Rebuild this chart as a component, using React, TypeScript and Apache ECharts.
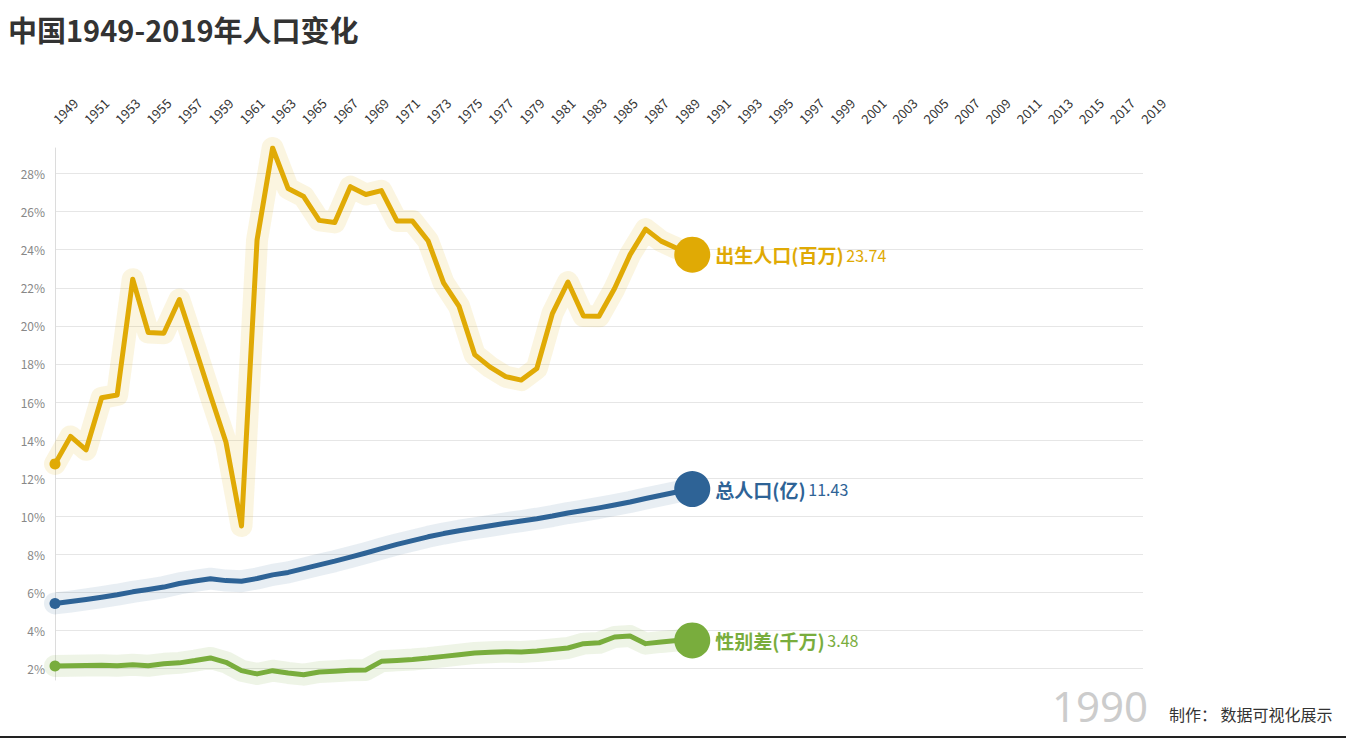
import React, { useEffect, useRef } from 'react';
import * as echarts from 'echarts';

const titleText = '中国1949-2019年人口变化';

const years = [
  '1949', '1950', '1951', '1952', '1953', '1954', '1955', '1956', '1957', '1958',
  '1959', '1960', '1961', '1962', '1963', '1964', '1965', '1966', '1967', '1968',
  '1969', '1970', '1971', '1972', '1973', '1974', '1975', '1976', '1977', '1978',
  '1979', '1980', '1981', '1982', '1983', '1984', '1985', '1986', '1987', '1988',
  '1989', '1990', '1991', '1992', '1993', '1994', '1995', '1996', '1997', '1998',
  '1999', '2000', '2001', '2002', '2003', '2004', '2005', '2006', '2007', '2008',
  '2009', '2010', '2011', '2012', '2013', '2014', '2015', '2016', '2017', '2018',
  '2019',
];

// 出生人口(百万), 1949-1990
const births = [
  12.75, 14.19, 13.49, 16.22, 16.37, 22.45, 19.65, 19.61, 21.38, 18.89,
  16.35, 13.89, 9.49, 24.51, 29.34, 27.21, 26.79, 25.54, 25.43, 27.31,
  26.9, 27.1, 25.51, 25.5, 24.47, 22.26, 21.02, 18.49, 17.83, 17.33,
  17.15, 17.76, 20.64, 22.3, 20.52, 20.5, 21.96, 23.74, 25.08, 24.45,
  24.07, 23.74,
];

// 总人口(亿), 1949-1990
const totalPop = [
  5.42, 5.52, 5.63, 5.75, 5.88, 6.03, 6.15, 6.28, 6.47, 6.6,
  6.72, 6.62, 6.59, 6.73, 6.92, 7.05, 7.25, 7.45, 7.64, 7.85,
  8.07, 8.3, 8.52, 8.72, 8.92, 9.09, 9.24, 9.37, 9.5, 9.63,
  9.75, 9.87, 10.01, 10.17, 10.3, 10.44, 10.59, 10.75, 10.93, 11.1,
  11.27, 11.43,
];

// 性别差(千万), 1949-1990
const genderDiff = [
  2.14, 2.15, 2.16, 2.17, 2.15, 2.2, 2.15, 2.25, 2.3, 2.42,
  2.56, 2.33, 1.89, 1.72, 1.89, 1.77, 1.68, 1.82, 1.86, 1.91,
  1.93, 2.38, 2.43, 2.48, 2.55, 2.64, 2.73, 2.82, 2.86, 2.89,
  2.87, 2.92, 3.0, 3.08, 3.31, 3.35, 3.66, 3.71, 3.31, 3.4,
  3.47, 3.48,
];

const seriesDefs = [
  { name: '出生人口(百万)', data: births, color: '#e0aa05', glow: 'rgba(226,171,3,0.12)' },
  { name: '总人口(亿)', data: totalPop, color: '#2e6396', glow: 'rgba(46,99,150,0.11)' },
  { name: '性别差(千万)', data: genderDiff, color: '#79ad3d', glow: 'rgba(121,173,61,0.13)' },
];

const currentYear = '1990';
const creditText = '制作： 数据可视化展示';

export default function App() {
  const ref = useRef<HTMLDivElement>(null);

  useEffect(() => {
    if (!ref.current) return;
    const chart = echarts.init(ref.current, null, { renderer: 'svg' });
    const font = '"Noto Sans CJK SC", "Noto Sans", sans-serif';

    const series: any[] = [];
    seriesDefs.forEach((s) => {
      series.push({
        name: s.name + '-glow',
        type: 'line',
        data: s.data,
        silent: true,
        showSymbol: false,
        z: 1,
        lineStyle: { width: 22, color: s.glow, cap: 'round', join: 'round' },
      });
    });
    seriesDefs.forEach((s) => {
      const last = s.data.length - 1;
      series.push({
        name: s.name,
        type: 'line',
        data: s.data,
        z: 3,
        symbol: 'circle',
        showSymbol: true,
        showAllSymbol: true,
        symbolSize: (_v: any, p: any) => (p.dataIndex === 0 ? 11 : p.dataIndex === last ? 36 : 0),
        itemStyle: { color: s.color },
        lineStyle: { width: 5, color: s.color, cap: 'round', join: 'round' },
        endLabel: {
          show: true,
          distance: 23,
          formatter: (p: any) => `{n|${s.name}} {v|${Number(p.value).toFixed(2)}}`,
          rich: {
            n: { fontSize: 19, fontWeight: 'bold', color: s.color, fontFamily: font },
            v: { fontSize: 16, color: s.color, fontFamily: font },
          },
        },
      });
    });

    chart.setOption({
      animation: false,
      backgroundColor: '#ffffff',
      textStyle: { fontFamily: font },
      title: {
        text: titleText,
        left: 3,
        top: 9,
        textStyle: { fontSize: 29, fontWeight: 'bold', color: '#333', fontFamily: font },
      },
      grid: { left: 55, right: 203, top: 148, bottom: 58, containLabel: false, outerBoundsMode: 'none' },
      xAxis: {
        type: 'category',
        position: 'top',
        data: years,
        boundaryGap: false,
        axisLine: { show: false },
        axisTick: { show: false },
        splitLine: { show: false },
        axisLabel: {
          rotate: -45,
          interval: 1,
          margin: 27,
          fontSize: 13,
          color: '#333',
          fontFamily: font,
        },
      },
      yAxis: {
        type: 'value',
        min: 1.4,
        max: 'dataMax',
        splitNumber: 14,
        axisLine: { show: true, lineStyle: { color: '#dcdcdc' } },
        axisTick: { show: false },
        axisLabel: {
          showMinLabel: false,
          showMaxLabel: false,
          fontSize: 12,
          color: '#888',
          margin: 10,
          formatter: (v: number) => (Math.abs(v - Math.round(v)) < 1e-6 ? `${Math.round(v)}%` : ''),
        },
        splitLine: {
          show: true,
          showMinLine: false,
          showMaxLine: false,
          lineStyle: { color: '#e6e6e6' },
        },
      },
      graphic: [
        {
          type: 'text',
          right: 198,
          top: 684,
          style: { text: currentYear, fontSize: 42, fill: '#cccccc', fontFamily: '"Noto Sans", sans-serif' },
        },
        {
          type: 'text',
          left: 1169,
          top: 706,
          style: { text: creditText, fontSize: 16, fill: '#333', fontFamily: font },
        },
        {
          type: 'rect',
          left: 0,
          top: 736,
          shape: { width: 1346, height: 2 },
          style: { fill: '#222' },
        },
      ],
      series,
    });

    return () => chart.dispose();
  }, []);

  return <div ref={ref} style={{ position: 'fixed', left: 0, top: 0, width: 1346, height: 738 }} />;
}
